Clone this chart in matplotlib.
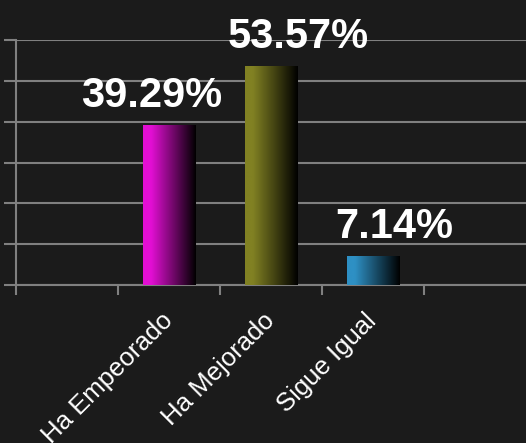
import numpy as np
import matplotlib
matplotlib.use("Agg")
import matplotlib.pyplot as plt
from matplotlib.colors import LinearSegmentedColormap

categories = ["Ha Empeorado", "Ha Mejorado", "Sigue Igual"]
values = [39.29, 53.57, 7.14]
labels = ["39.29%", "53.57%", "7.14%"]
colors = ["#e30fd4", "#818123", "#2e90c4"]
label_dx = [-0.17, 0.27, 0.21]   # label nudges, in category units

bg = "#1b1b1b"
grid = "#808080"

plt.rcParams["font.family"] = ["Liberation Sans", "DejaVu Sans"]

fig = plt.figure(figsize=(5.26, 4.43), dpi=100, facecolor=bg)
ax = fig.add_axes([16 / 526, 158 / 443, 510 / 526, 245 / 443])
ax.set_facecolor(bg)

x = np.arange(len(categories)) + 1
bars = ax.bar(x, values, width=0.51, color="none", edgecolor="none", zorder=3)

grad = np.linspace(0, 1, 256).reshape(1, -1)
for b, c in zip(bars, colors):
    cmap = LinearSegmentedColormap.from_list("g", [(0, c), (0.15, c), (1, "#000000")])
    x0, y0 = b.get_x(), b.get_y()
    im = ax.imshow(grad, cmap=cmap, aspect="auto", zorder=3,
                   extent=[x0, x0 + b.get_width(), y0, y0 + b.get_height()])
    im.set_clip_path(b)

ax.set_xlim(-0.5, 4.5)
ax.set_ylim(0, 60)

for xi, v, t, dx in zip(x, values, labels, label_dx):
    ax.annotate(t, (xi + dx, v), xytext=(0, 13), textcoords="offset points",
                ha="center", va="baseline", color="white", fontsize=30,
                fontweight="bold", zorder=4)

ax.set_yticks(np.arange(0, 61, 10))
ax.set_yticklabels([])
ax.yaxis.grid(True, color=grid, linewidth=1.5, zorder=0)
ax.set_xticks(np.arange(0, 5) - 0.5)
ax.set_xticklabels([])
ax.set_xticks(x, minor=True)
ax.set_xticklabels(categories, minor=True, rotation=45, ha="right", va="center",
                   rotation_mode="anchor", color="white", fontsize=18.5)
ax.tick_params(axis="x", which="minor", length=0, pad=23)
ax.tick_params(axis="both", which="major", color=grid, width=1.5, length=7)
ax.tick_params(axis="y", length=9)

for s in ["top", "right"]:
    ax.spines[s].set_visible(False)
for s in ["left", "bottom"]:
    ax.spines[s].set_color(grid)
    ax.spines[s].set_linewidth(1.5)

fig.savefig("out.png", dpi=100, facecolor=bg)
